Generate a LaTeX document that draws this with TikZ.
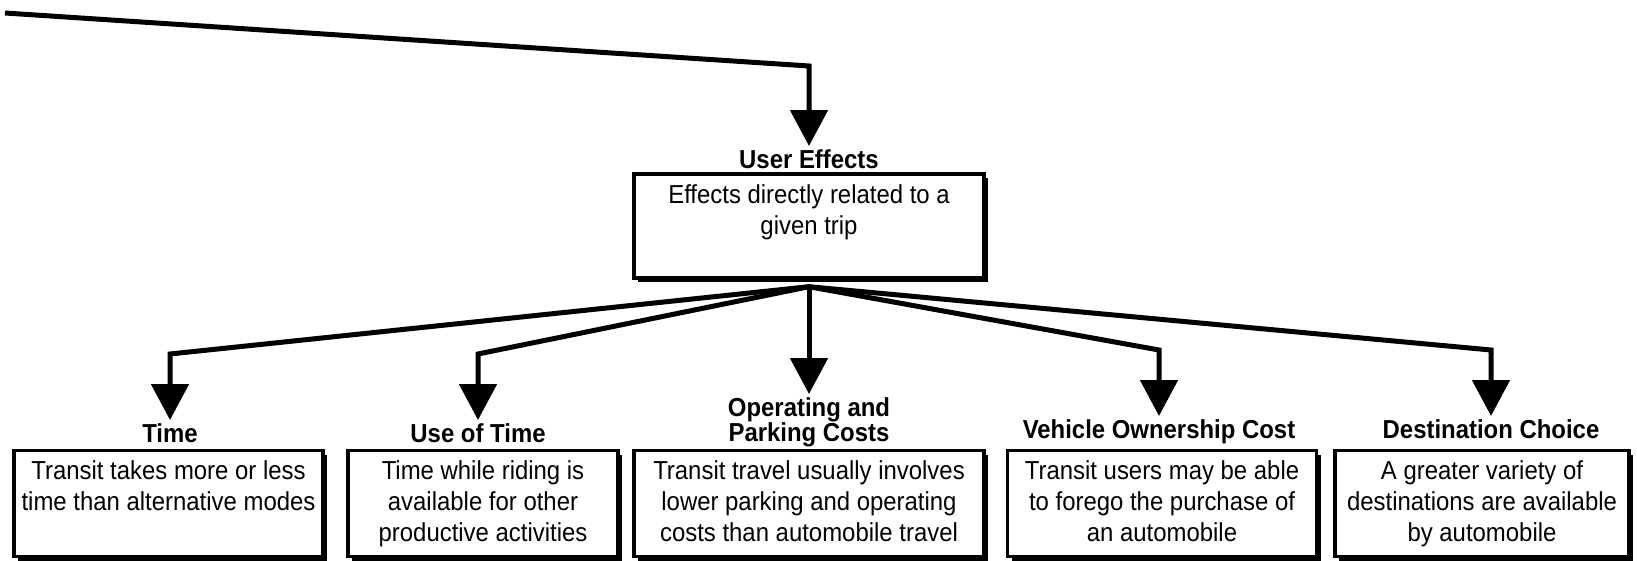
\documentclass[tikz,border=0pt]{standalone}
\usepackage{fontspec}
\setmainfont{Liberation Sans}[FakeStretch=0.92]
\usetikzlibrary{arrows.meta,shadows}
\begin{document}
\begin{tikzpicture}[x=1pt,y=-1pt,
  link/.style={line width=5pt, line join=miter, -{Triangle[length=36pt,width=37pt]}},
  cardbox/.style={draw, line width=3.4pt, fill=white, inner sep=0pt,
    minimum height=106pt,
    general shadow={fill=black, shadow xshift=4pt, shadow yshift=-4pt}},
  body/.style={anchor=north, align=center, inner sep=0pt,
    font=\fontsize{26}{31}\selectfont},
  head/.style={anchor=north, align=center, inner ysep=3pt, inner xsep=0pt,
    font=\bfseries\fontsize{26}{25}\selectfont}]
\useasboundingbox (0,0) rectangle (1637,560);

% central node
\node[head] (uel) at (809,146) {User Effects};
\node[cardbox, minimum width=350pt, minimum height=104pt] (ue) at (809,226) {};
\node[body] (uet) at ([yshift=-12pt]ue.north) {Effects directly related to a\\given trip};

% incoming connector from the upper left
\coordinate (src) at (5,13);
\draw[link] (src) -- (uel.north |- 0,66) -- (uel.north);

% category labels
\node[head] (tml) at (170,420) {Time};
\node[head] (usl) at (478,420) {Use of Time};
\node[head] (opl) at (809,394) {Operating and\\Parking Costs};
\node[head] (vol) at (1159,416) {Vehicle Ownership Cost};
\node[head] (dcl) at (1491,416) {Destination Choice};

% category boxes
\node[cardbox, minimum width=309pt] (tm) at (168.5,503.5) {};
\node[cardbox, minimum width=270pt] (us) at (483,503.5) {};
\node[cardbox, minimum width=350pt] (op) at (809,503.5) {};
\node[cardbox, minimum width=309pt] (vo) at (1162,503.5) {};
\node[cardbox, minimum width=294pt] (dc) at (1482,503.5) {};

\node[body] (tmt) at ([yshift=-12pt]tm.north) {Transit takes more or less\\time than alternative modes};
\node[body] (ust) at ([yshift=-12pt]us.north) {Time while riding is\\available for other\\productive activities};
\node[body] (opt) at ([yshift=-12pt]op.north) {Transit travel usually involves\\lower parking and operating\\costs than automobile travel};
\node[body] (vot) at ([yshift=-12pt]vo.north) {Transit users may be able\\to forego the purchase of\\an automobile};
\node[body] (dct) at ([yshift=-12pt]dc.north) {A greater variety of\\destinations are available\\by automobile};

% branching connectors
\coordinate (hub) at ([yshift=-7pt]ue.south);
\draw[link] (hub) -- (tml.north |- 0,354) -- (tml.north);
\draw[link] (hub) -- (usl.north |- 0,354) -- (usl.north);
\draw[link] (hub) -- (opl.north);
\draw[link] (hub) -- (vol.north |- 0,350) -- (vol.north);
\draw[link] (hub) -- (dcl.north |- 0,350) -- (dcl.north);
\end{tikzpicture}
\end{document}
